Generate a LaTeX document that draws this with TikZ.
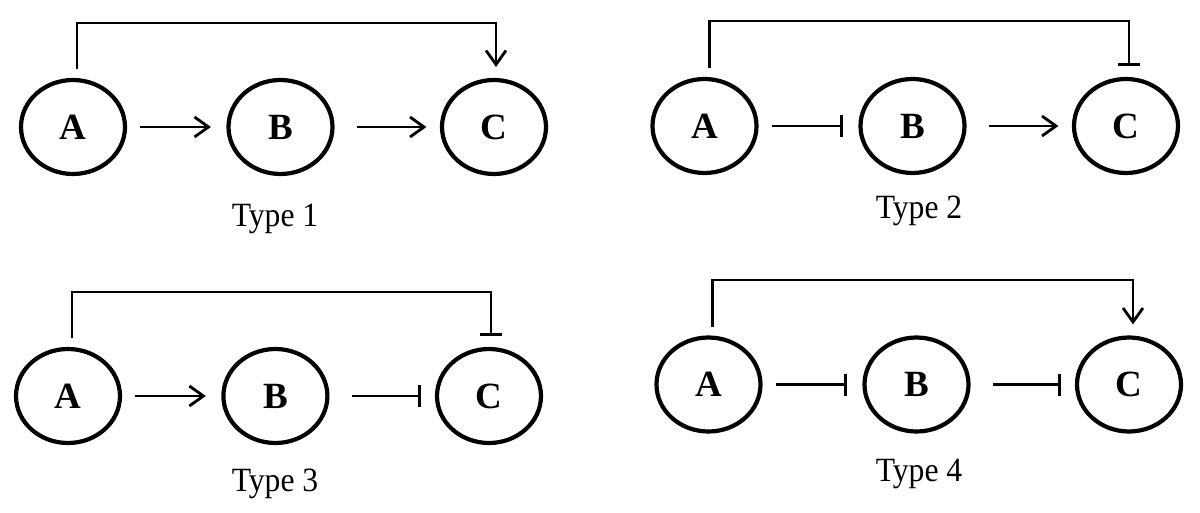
\documentclass[tikz,border=0pt]{standalone}
\usepackage{fontspec}
\setmainfont{Liberation Serif}
\usetikzlibrary{shapes.geometric,arrows.meta}
\tikzset{
  nd/.style={ellipse, draw, line width=4.2pt, minimum width=104pt, minimum height=94pt, inner sep=0pt,
    font=\fontsize{37}{40}\selectfont\bfseries},
  act/.style={line width=2.8pt, -{Straight Barb[length=14pt,width=20pt]}},
  inh/.style={line width=2.8pt, -{Bar[width=22pt,line width=3.2pt]}},
  first/.style={shorten <=13pt, shorten >=15.5pt},
  second/.style={shorten <=22.5pt, shorten >=13.5pt},
  fb/.style={shorten <=8.5pt, shorten >=11pt},
  lbl/.style={anchor=base, inner sep=0pt, font=\fontsize{34}{40}\selectfont}
}
\newcommand{\typelabel}[1]{\scalebox{0.93}[1]{#1}}
\begin{document}
\begin{tikzpicture}[x=1pt,y=-1pt]
\useasboundingbox (0,0) rectangle (1200,513);
% Type 1
\node[nd] (A1) at (73,127) {A};
\node[nd] (B1) at (280.5,127) {B};
\node[nd] (C1) at (494,127) {C};
\draw[act,first] (A1) -- (B1);
\draw[act,second] (B1) -- (C1);
\draw[act,fb] ([xshift=4pt]A1.north) -- ([xshift=4pt]A1.north |- 0,23) -| ([xshift=2pt]C1.north);
\node[lbl] (L1) at (275,227) {\typelabel{Type 1}};
% Type 2
\node[nd] (A2) at (704.5,126) {A};
\node[nd] (B2) at (912.5,126) {B};
\node[nd] (C2) at (1126,126) {C};
\draw[inh,first] (A2) -- (B2);
\draw[act,second] (B2) -- (C2);
\draw[inh,fb] ([xshift=5pt]A2.north) -- ([xshift=5pt]A2.north |- 0,21) -| ([xshift=3pt]C2.north);
\node[lbl] (L2) at (919,219) {\typelabel{Type 2}};
% Type 3
\node[nd] (A3) at (68,396) {A};
\node[nd] (B3) at (275.4,396) {B};
\node[nd] (C3) at (489,396) {C};
\draw[act,first] (A3) -- (B3);
\draw[inh,second] (B3) -- (C3);
\draw[inh,fb] ([xshift=4pt]A3.north) -- ([xshift=4pt]A3.north |- 0,292) -| ([xshift=2pt]C3.north);
\node[lbl] (L3) at (275,491) {\typelabel{Type 3}};
% Type 4
\node[nd] (A4) at (708.5,384.5) {A};
\node[nd] (B4) at (916.5,384.5) {B};
\node[nd] (C4) at (1129,384.5) {C};
\draw[inh,first] (A4) -- (B4);
\draw[inh,second] (B4) -- (C4);
\draw[act,fb] ([xshift=4pt]A4.north) -- ([xshift=4pt]A4.north |- 0,280) -| ([xshift=4pt]C4.north);
\node[lbl] (L4) at (919,481) {\typelabel{Type 4}};
\end{tikzpicture}
\end{document}
